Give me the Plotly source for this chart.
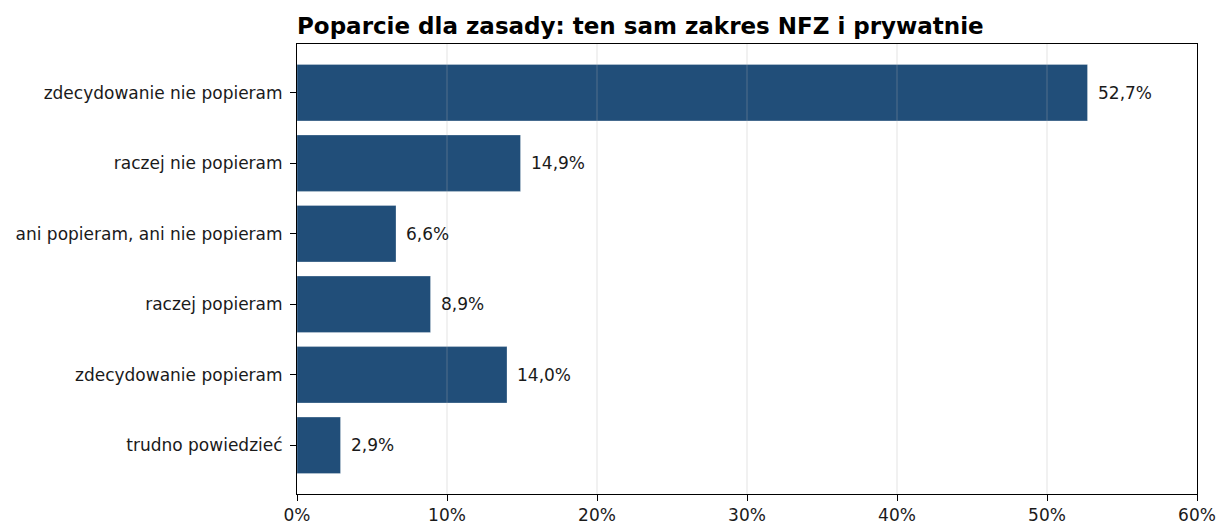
import plotly.graph_objects as go

categories = ["zdecydowanie nie popieram", "raczej nie popieram", "ani popieram, ani nie popieram",
              "raczej popieram", "zdecydowanie popieram", "trudno powiedzieć"]
values = [52.7, 14.9, 6.6, 8.9, 14.0, 2.9]
labels = ["52,7%", "14,9%", "6,6%", "8,9%", "14,0%", "2,9%"]
x_ticks = [0, 10, 20, 30, 40, 50, 60]
x_tick_text = ["0%", "10%", "20%", "30%", "40%", "50%", "60%"]
title = "Poparcie dla zasady: ten sam zakres NFZ i prywatnie"

FONT = "DejaVu Sans"
TXT = "#1a1a1a"
FS = 17
GRID = "rgba(176,176,176,0.35)"

fig = go.Figure()
fig.add_trace(go.Bar(
    x=values, y=categories, orientation="h", width=0.8,
    marker=dict(color="#214e79", line=dict(color="rgba(255,255,255,0.35)", width=0.8)),
    hoverinfo="skip",
))
for c, v, t in zip(categories, values, labels):
    fig.add_annotation(x=v, y=c, text=t, showarrow=False, xanchor="left", xshift=8,
                       font=dict(family=FONT, size=FS, color=TXT))
# grid lines drawn above the bars (as in the reference)
for xv in x_ticks[1:-1]:
    fig.add_shape(type="line", xref="x", yref="paper", x0=xv, x1=xv, y0=0, y1=1,
                  line=dict(color=GRID, width=1), layer="above")

fig.update_layout(
    width=1217, height=525,
    margin=dict(l=297, r=20, t=44, b=31, autoexpand=False),
    plot_bgcolor="white", paper_bgcolor="white",
    showlegend=False,
    title=dict(text="<b>" + title + "</b>", x=0, xref="paper", xanchor="left",
               y=1, yref="paper", yanchor="bottom", pad=dict(b=10), automargin=False,
               font=dict(family=FONT, size=23, color="black")),
    font=dict(family=FONT, size=FS, color=TXT),
)
fig.update_xaxes(range=[0, 60], tickvals=x_ticks, ticktext=x_tick_text, automargin=False,
                 showgrid=False,
                 showline=True, linecolor="black", linewidth=1, mirror=True,
                 ticks="outside", ticklen=6, tickcolor="black", tickwidth=1,
                 zeroline=False, tickfont=dict(size=FS, color=TXT))
fig.update_yaxes(categoryorder="array", categoryarray=categories, automargin=False,
                 range=[len(categories) - 1 + 0.69, -0.69],
                 showgrid=False, showline=True, linecolor="black", linewidth=1, mirror=True,
                 ticks="outside", ticklen=6, tickcolor="black", tickwidth=1,
                 ticklabelstandoff=4,
                 tickfont=dict(size=FS, color=TXT))

fig.write_html("out.html", config={"displayModeBar": False},
               post_script="document.body.style.margin='0';document.body.style.overflow='hidden';")
